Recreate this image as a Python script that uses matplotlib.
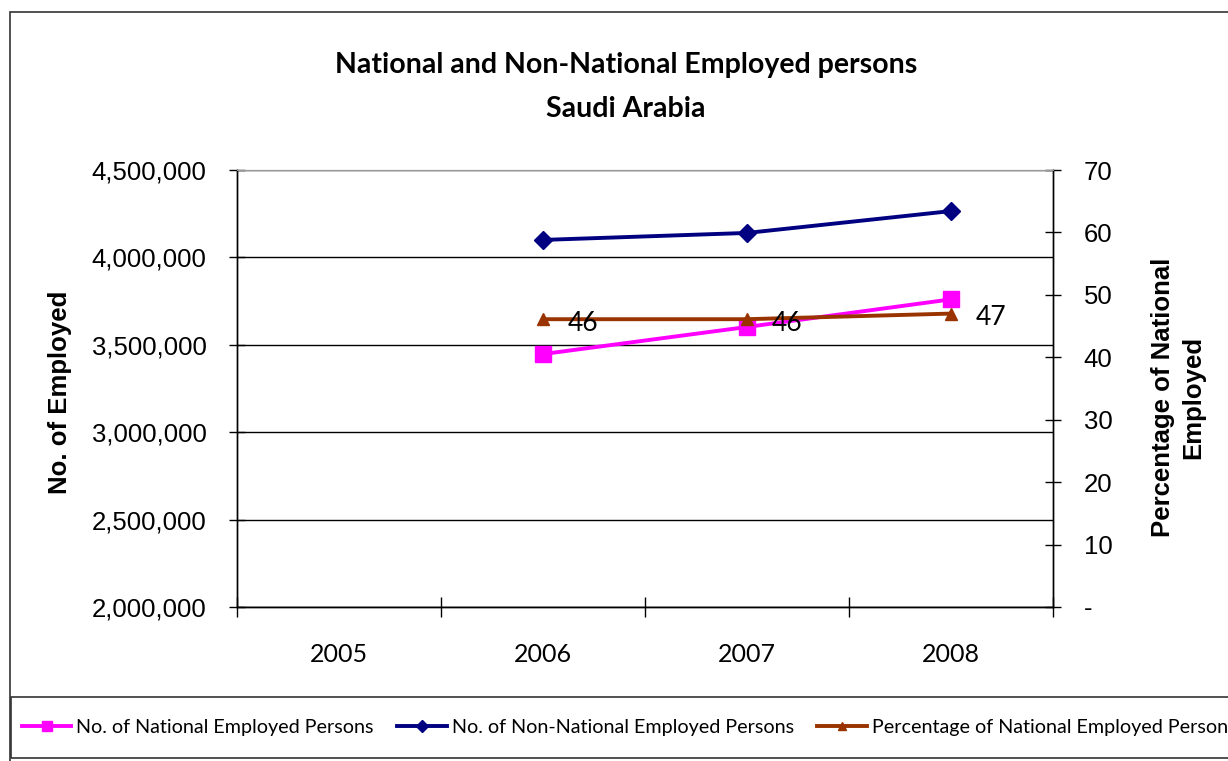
import numpy as np
import matplotlib.pyplot as plt
from matplotlib.patches import Rectangle
from matplotlib.ticker import FuncFormatter

years = ["2005", "2006", "2007", "2008"]
national = [np.nan, 3447000, 3602000, 3760000]
non_national = [np.nan, 4100000, 4140000, 4265000]
pct_national = [np.nan, 46.1, 46.1, 47.0]
pct_labels = ["", "46", "46", "47"]

W, H = 1228, 761
fig = plt.figure(figsize=(W / 100, H / 100), dpi=100)
ax = fig.add_axes([237 / W, 1 - 607 / H, 816 / W, 437 / H])
ax2 = ax.twinx()

x = np.arange(len(years)) + 0.5
l1, = ax.plot(x, national, color="#FF00FF", lw=2.8, marker="s", ms=12,
              label="No. of National Employed Persons")
l2, = ax.plot(x, non_national, color="#000080", lw=2.8, marker="D", ms=9,
              label="No. of Non-National Employed Persons")
l3, = ax2.plot(x, pct_national, color="#993300", lw=2.8, marker="^", ms=9,
               label="Percentage of National Employed Persons")
for xi, v, t in zip(x, pct_national, pct_labels):
    if t:
        ax2.annotate(t, (xi, v), xytext=(18, -3), textcoords="offset points",
                     ha="left", va="center", fontsize=19, family="Lato")

# left axis
ax.set_xlim(0, 4)
ax.set_ylim(2000000, 4500000)
ax.set_yticks(np.arange(2000000, 4500001, 500000))
ax.yaxis.set_major_formatter(FuncFormatter(lambda v, p: f"{int(v):,}"))
ax.grid(axis="y", color="black", lw=1)
ax.set_axisbelow(True)
ax.tick_params(axis="y", direction="inout", length=12, width=1, pad=16,
               labelsize=18.5)
for lab in ax.get_yticklabels():
    lab.set_family("Liberation Sans")
ax.set_xticks([0, 1, 2, 3, 4])
ax.set_xticklabels([])
ax.set_xticks(x, minor=True)
ax.set_xticklabels(years, minor=True, fontsize=18, family="Lato")
ax.tick_params(axis="x", which="major", direction="inout", length=14, width=1)
ax.tick_params(axis="x", which="minor", length=0, pad=26)

# right axis
ax2.set_ylim(0, 70)
ax2.set_yticks(np.arange(0, 71, 10))
ax2.yaxis.set_major_formatter(FuncFormatter(lambda v, p: "-" if v == 0 else f"{int(v)}"))
ax2.tick_params(axis="y", direction="inout", length=12, width=1, pad=16,
                labelsize=18.5)
for lab in ax2.get_yticklabels():
    lab.set_family("Liberation Sans")

for a in (ax, ax2):
    a.spines["top"].set_color("#999999")
    for s in ("left", "right", "bottom"):
        a.spines[s].set_color("black")
        a.spines[s].set_linewidth(1)

# titles and axis labels
fig.text(626 / W, 1 - 87 / H, "National and Non-National Employed persons\nSaudi Arabia",
         ha="center", va="center", fontsize=20.5, fontweight="bold", family="Lato",
         linespacing=1.85)
fig.text(60 / W, 1 - 392 / H, "No. of Employed", rotation=90, ha="center", va="center",
         fontsize=18.5, fontweight="bold", family="Liberation Sans")
fig.text(1178 / W, 1 - 397 / H, "Percentage of National\nEmployed", rotation=90,
         ha="center", va="center", fontsize=18.5, fontweight="bold",
         family="Liberation Sans", linespacing=1.3)

# frames
fig.patches.append(Rectangle((10 / W, -0.1), 1.2, 1.1 - 12 / H, transform=fig.transFigure,
                             fill=False, edgecolor="#333333", lw=1.2))
fig.patches.append(Rectangle((11 / W, 3 / H), 1.2, 61 / H, transform=fig.transFigure,
                             fill=False, edgecolor="#333333", lw=1.2))

fig.legend([l1, l2, l3], [l1.get_label(), l2.get_label(), l3.get_label()],
           loc="center left", bbox_to_anchor=(22 / W, 1 - 727 / H), ncol=3,
           frameon=False, prop={"family": "Lato", "size": 14.2},
           handlelength=2.5, handletextpad=0.25, columnspacing=1.2, markerscale=0.65,
           borderpad=0, borderaxespad=0)

fig.savefig("out.png", dpi=100)
